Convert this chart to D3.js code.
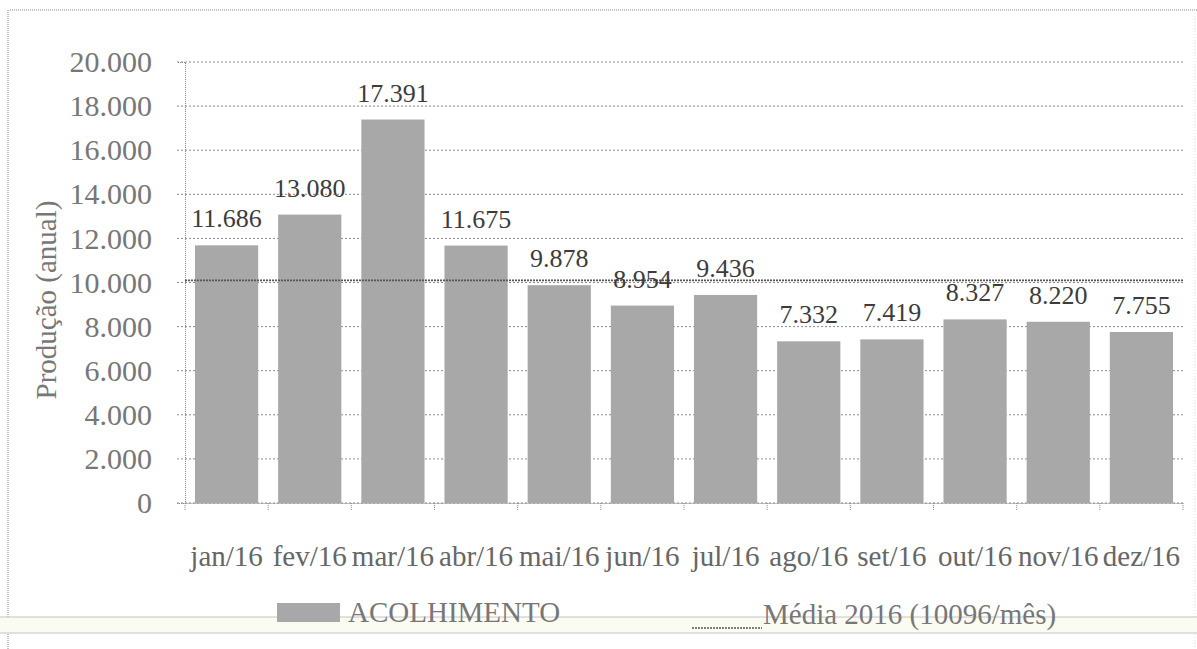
<!DOCTYPE html>
<html>
<head>
<meta charset="utf-8">
<script src="https://cdn.jsdelivr.net/npm/d3@7/dist/d3.min.js"></script>
<style>
  body { margin: 0; background: #fff; }
  svg text { font-family: 'Liberation Serif', 'DejaVu Serif', serif; }
</style>
</head>
<body>
<svg id="chart"></svg>
<script>
(function () {
  'use strict';

  // data
  var months = ['jan/16', 'fev/16', 'mar/16', 'abr/16', 'mai/16', 'jun/16',
                'jul/16', 'ago/16', 'set/16', 'out/16', 'nov/16', 'dez/16'];
  var acolhimento = [11686, 13080, 17391, 11675, 9878, 8954,
                     9436, 7332, 7419, 8327, 8220, 7755];
  var media = 10096;
  var yTicks = [0, 2000, 4000, 6000, 8000, 10000, 12000, 14000, 16000, 18000, 20000];
  var seriesName = 'ACOLHIMENTO';
  var mediaName = 'Média 2016 (10096/mês)';
  var yTitle = 'Produção (anual)';

  var W = 1197, H = 649;
  var left = 185, right = 1183, top = 62, bottom = 503;
  var serif = "'Liberation Serif', 'DejaVu Serif', serif";

  var svg = d3.select('#chart')
      .attr('width', W)
      .attr('height', H);

  // page bits from the scan: dotted frame and the fold lines
  svg.append('line')
      .attr('x1', 10).attr('x2', W).attr('y1', 10).attr('y2', 10)
      .style('stroke', '#888').style('stroke-dasharray', '1,1');
  svg.append('line')
      .attr('x1', 8).attr('x2', 8).attr('y1', 10).attr('y2', H)
      .style('stroke', '#888').style('stroke-dasharray', '1,1');
  svg.append('line')
      .attr('x1', 1195).attr('x2', 1195).attr('y1', 10).attr('y2', H)
      .style('stroke', '#ddd').style('stroke-dasharray', '1,2');
  svg.append('rect')
      .attr('x', 0).attr('y', 617).attr('width', W).attr('height', 16)
      .style('fill', '#fbfbf2');
  [617, 633].forEach(function (yy) {
    svg.append('line')
        .attr('x1', 0).attr('x2', W).attr('y1', yy).attr('y2', yy)
        .style('stroke', '#c4c4c4');
  });

  var x = d3.scaleBand()
      .domain(months)
      .range([left, right])
      .paddingInner(0.24)
      .paddingOuter(0.12);

  var y = d3.scaleLinear()
      .domain([0, 20000])
      .range([bottom, top]);

  var fmt = function (v) {
    return d3.format(',')(v).replace(/,/g, '.');
  };

  // gridlines
  svg.append('g')
      .selectAll('line')
      .data(yTicks)
      .enter()
      .append('line')
      .attr('x1', left - 8)
      .attr('x2', right)
      .attr('y1', function (d) { return y(d); })
      .attr('y2', function (d) { return y(d); })
      .style('stroke', '#8a8a8a')
      .style('stroke-dasharray', '2,2');

  // y axis labels
  var yAxis = svg.append('g')
      .attr('transform', 'translate(' + left + ',0)')
      .call(d3.axisLeft(y).tickValues(yTicks).tickFormat(fmt).tickSize(8).tickPadding(25));
  yAxis.attr('font-family', serif);
  yAxis.select('.domain')
      .style('stroke', '#888')
      .style('stroke-dasharray', '1,1');
  yAxis.selectAll('.tick line').remove();
  yAxis.selectAll('.tick text')
      .attr('font-family', serif)
      .style('font-size', '30px')
      .style('fill', '#777');

  // bars
  svg.append('g')
      .selectAll('rect')
      .data(acolhimento)
      .enter()
      .append('rect')
      .attr('x', function (d, i) { return x(months[i]); })
      .attr('y', function (d) { return y(d); })
      .attr('width', x.bandwidth())
      .attr('height', function (d) { return y(0) - y(d); })
      .style('fill', '#a8a8a8');

  // x axis
  var xAxis = svg.append('g')
      .attr('transform', 'translate(0,' + bottom + ')')
      .call(d3.axisBottom(x).tickSize(0).tickPadding(42));
  xAxis.attr('font-family', serif);
  xAxis.select('.domain')
      .style('stroke', '#888')
      .style('stroke-dasharray', '1,1');
  xAxis.selectAll('.tick text')
      .attr('font-family', serif)
      .style('font-size', '29px')
      .style('fill', '#666');

  // little ticks between categories
  var step = x.step();
  svg.append('g')
      .selectAll('line')
      .data(d3.range(months.length + 1))
      .enter()
      .append('line')
      .attr('x1', function (i) { return left + i * step; })
      .attr('x2', function (i) { return left + i * step; })
      .attr('y1', bottom)
      .attr('y2', bottom + 8)
      .style('stroke', '#888')
      .style('stroke-dasharray', '1,1');

  // mean line
  svg.append('line')
      .attr('x1', left)
      .attr('x2', right)
      .attr('y1', y(media))
      .attr('y2', y(media))
      .style('stroke', '#555')
      .style('stroke-width', 1.6)
      .style('stroke-dasharray', '2,1');

  // value labels
  svg.append('g')
      .selectAll('text')
      .data(acolhimento)
      .enter()
      .append('text')
      .attr('x', function (d, i) { return x(months[i]) + x.bandwidth() / 2; })
      .attr('y', function (d) { return y(d) - 18; })
      .attr('text-anchor', 'middle')
      .attr('font-family', serif)
      .text(fmt)
      .style('font-size', '26px')
      .style('fill', '#3c3c3c');

  // y title
  svg.append('text')
      .attr('transform', 'translate(56,300) rotate(-90)')
      .attr('text-anchor', 'middle')
      .attr('font-family', serif)
      .text(yTitle)
      .style('font-size', '29px')
      .style('fill', '#777');

  // legend
  svg.append('rect')
      .attr('x', 277).attr('y', 603)
      .attr('width', 63).attr('height', 19)
      .style('fill', '#a8a8a8');
  svg.append('text')
      .attr('x', 348).attr('y', 622)
      .attr('font-family', serif)
      .text(seriesName)
      .style('font-size', '29px')
      .style('fill', '#777');
  svg.append('line')
      .attr('x1', 692).attr('x2', 762)
      .attr('y1', 628).attr('y2', 628)
      .style('stroke', '#555')
      .style('stroke-width', 1.6)
      .style('stroke-dasharray', '2,1');
  svg.append('text')
      .attr('x', 763).attr('y', 624)
      .attr('font-family', serif)
      .text(mediaName)
      .style('font-size', '29px')
      .style('fill', '#777');
} ());
</script>
</body>
</html>
